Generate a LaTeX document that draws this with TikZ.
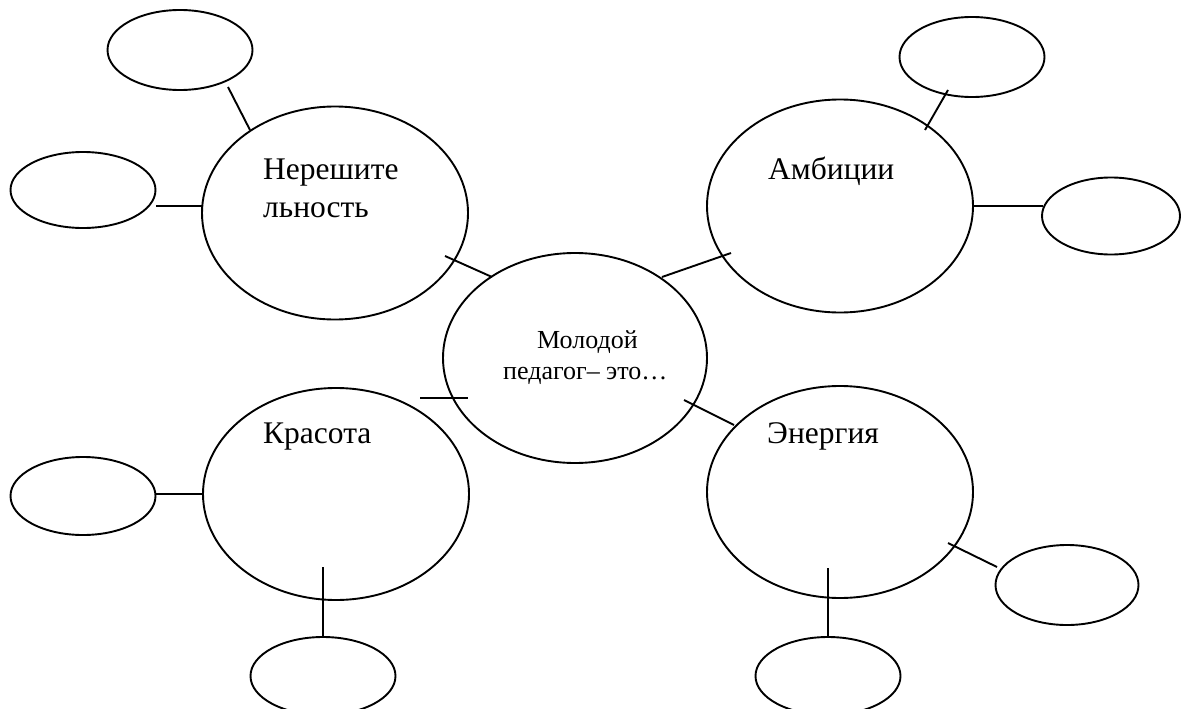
\documentclass[tikz,border=0pt]{standalone}
\usepackage{fontspec}
\setmainfont{Liberation Serif}
\usetikzlibrary{shapes.geometric}
\begin{document}
\begin{tikzpicture}[x=1pt,y=-1pt,
  oval/.style={draw, ellipse, line width=1.9pt, inner sep=0pt},
  big/.style={oval, minimum width=266pt, minimum height=213pt},
  small/.style={oval, minimum width=145pt, minimum height=78pt},
  link/.style={line width=1.9pt},
  lbl/.style={anchor=base west, inner sep=0pt, font=\fontsize{31.5}{37}\selectfont},
  clbl/.style={anchor=base west, inner sep=0pt, font=\fontsize{26}{30}\selectfont}]
\useasboundingbox (0,0) rectangle (1183,709);
% big ellipses
\node[big] (N) at (335,213) {};
\node[big] (A) at (840,206) {};
\node[oval, minimum width=264pt, minimum height=210pt] (C) at (575,358) {};
\node[big, minimum height=212pt] (K) at (336,494) {};
\node[big, minimum height=212pt] (E) at (840,492) {};
% small ellipses
\node[small, minimum height=80pt] (s1) at (180,50) {};
\node[small, minimum height=76pt] (s2) at (83,190) {};
\node[small, minimum height=80pt] (s3) at (972,57) {};
\node[small, minimum width=138pt, minimum height=77pt] (s4) at (1111,216) {};
\node[small] (s5) at (83,496) {};
\node[small] (s6) at (323,676) {};
\node[small, minimum width=143pt, minimum height=80pt] (s7) at (1067,585) {};
\node[small] (s8) at (828,676) {};
% texts
\node[lbl] (tN1) at (263,179) {Нерешите};
\node[lbl] (tN2) at (263,217) {льность};
\node[lbl] (tA) at (768,179) {Амбиции};
\node[lbl] (tK) at (263,443) {Красота};
\node[lbl] (tE) at (767,443) {Энергия};
\node[clbl] (tC1) at (537,348) {Молодой};
\node[clbl] (tC2) at (503,379) {педагог– это…};
% connector end points
\coordinate (a1) at (228,87);  \coordinate (a2) at (250,130);
\coordinate (b1) at (156,206); \coordinate (b2) at (203,206);
\coordinate (c1) at (445,256); \coordinate (c2) at (492,277);
\coordinate (d1) at (662,277); \coordinate (d2) at (731,253);
\coordinate (e1) at (925,130); \coordinate (e2) at (948,90);
\coordinate (f1) at (973,206); \coordinate (f2) at (1043,206);
\coordinate (g1) at (420,398); \coordinate (g2) at (468,398);
\coordinate (h1) at (684,400); \coordinate (h2) at (734,425);
\coordinate (i1) at (156,494); \coordinate (i2) at (203,494);
\coordinate (j1) at (323,567); \coordinate (j2) at (323,638);
\coordinate (k1) at (828,568); \coordinate (k2) at (828,638);
\coordinate (l1) at (948,543); \coordinate (l2) at (997,567);
\draw[link] (a1) -- (a2);
\draw[link] (b1) -- (b2);
\draw[link] (c1) -- (c2);
\draw[link] (d1) -- (d2);
\draw[link] (e1) -- (e2);
\draw[link] (f1) -- (f2);
\draw[link] (g1) -- (g2);
\draw[link] (h1) -- (h2);
\draw[link] (i1) -- (i2);
\draw[link] (j1) -- (j2);
\draw[link] (k1) -- (k2);
\draw[link] (l1) -- (l2);
\end{tikzpicture}
\end{document}
